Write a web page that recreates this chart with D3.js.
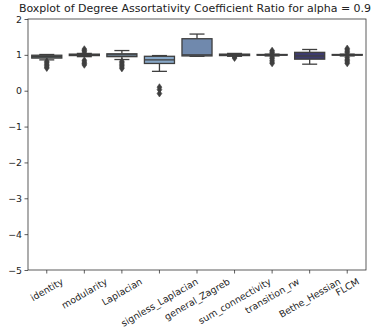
<!DOCTYPE html>
<html>
<head>
<meta charset="utf-8">
<script src="https://cdn.jsdelivr.net/npm/d3@7"></script>
<style>
  body { margin: 0; background: #fff; }
  text { font-family: "DejaVu Sans", sans-serif; fill: #222; }
</style>
</head>
<body>
<div id="chart-area"></div>
<script>
// Data
const categories = ["identity", "modularity", "Laplacian", "signless_Laplacian", "general_Zagreb",
  "sum_connectivity", "transition_rw", "Bethe_Hessian", "FLCM"];
const q1 = [0.91, 0.98, 0.95, 0.76, 0.97, 0.98, 0.99, 0.88, 0.99];
const median = [0.95, 1.00, 1.00, 0.86, 1.00, 1.00, 1.00, 0.97, 1.00];
const q3 = [0.99, 1.02, 1.03, 0.96, 1.45, 1.02, 1.01, 1.07, 1.01];
const whiskerLo = [0.86, 0.95, 0.87, 0.54, 0.96, 0.96, 0.97, 0.74, 0.97];
const whiskerHi = [1.01, 1.04, 1.12, 0.98, 1.58, 1.04, 1.02, 1.15, 1.02];
const outliers = [
  [0.82, 0.78, 0.74, 0.70, 0.66, 0.63],
  [1.16, 1.12, 1.08, 0.85, 0.80, 0.76, 0.72],
  [0.82, 0.78, 0.74, 0.70, 0.66, 0.62],
  [0.10, 0.03, -0.08],
  [],
  [0.94, 0.91],
  [1.12, 1.08, 1.05, 0.94, 0.90, 0.85, 0.80, 0.76],
  [],
  [1.18, 1.14, 1.10, 1.06, 0.93, 0.88, 0.84, 0.80, 0.76]
];
const boxColors = ["#65777a", "#3a4a5a", "#8eaecb", "#87a7c7", "#7089ad",
  "#2c2c3c", "#333340", "#3e3c6e", "#404048"];
const yTicks = [-5, -4, -3, -2, -1, 0, 1, 2];
const title = "Boxplot of Degree Assortativity Coefficient Ratio for alpha = 0.9";

const width = 378, height = 331;
const margin = {top: 19, right: 12, bottom: 61, left: 28};
const edge = "#3f3f3f";
const tickFont = 9.4;

const svg = d3.select("#chart-area").append("svg")
    .attr("width", width).attr("height", height);

const x = d3.scaleBand()
    .domain(categories)
    .range([margin.left, width - margin.right])
    .paddingInner(0.2).paddingOuter(0.1);

const y = d3.scaleLinear()
    .domain([-5, 2])
    .range([height - margin.bottom, margin.top]);

// title
svg.append("text")
    .attr("x", 195)
    .attr("y", 12)
    .attr("text-anchor", "middle")
    .style("font-size", "11px")
    .text(title);

// y axis
const yAxis = svg.append("g")
    .attr("transform", `translate(${margin.left},0)`)
    .call(d3.axisLeft(y).tickValues(yTicks).tickSize(3.5).tickPadding(2.5)
      .tickFormat(d => d < 0 ? "\u2212" + Math.abs(d) : d));
yAxis.selectAll("text").style("font-size", tickFont + "px");
// keep the top label clear of the title
yAxis.selectAll("text").filter(d => d === 2).attr("dy", "0.42em");

// x axis
const xAxis = svg.append("g")
    .attr("transform", `translate(0,${height - margin.bottom})`)
    .call(d3.axisBottom(x).tickSize(3.5).tickFormat(""));

[yAxis, xAxis].forEach(a => {
  a.select(".domain").remove();
  a.selectAll("line").attr("stroke", "#333").attr("stroke-width", 0.8);
});

// rotated labels, centred on tick like matplotlib ha=center
const labelTop = height - margin.bottom + 6;
const ang = 30 * Math.PI / 180;
categories.forEach(c => {
  const t = svg.append("text")
      .style("font-size", tickFont + "px")
      .attr("text-anchor", "middle")
      .attr("dominant-baseline", "central")
      .text(c);
  const w = t.node().getComputedTextLength();
  const h = tickFont * 1.1;
  const bh = w * Math.sin(ang) + h * Math.cos(ang);
  const cx = x(c) + x.bandwidth() / 2, cy = labelTop + bh / 2;
  t.attr("transform", `translate(${cx},${cy}) rotate(-30)`);
});

// boxes
const bw = x.bandwidth();
const g = svg.append("g");
categories.forEach((c, i) => {
  const cx = x(c) + bw / 2;
  const gi = g.append("g");
  // whiskers
  gi.append("line").attr("x1", cx).attr("x2", cx)
    .attr("y1", y(q3[i])).attr("y2", y(whiskerHi[i]))
    .attr("stroke", edge).attr("stroke-width", 1.3);
  gi.append("line").attr("x1", cx).attr("x2", cx)
    .attr("y1", y(q1[i])).attr("y2", y(whiskerLo[i]))
    .attr("stroke", edge).attr("stroke-width", 1.3);
  [whiskerHi[i], whiskerLo[i]].forEach(v => {
    gi.append("line").attr("x1", cx - bw / 4).attr("x2", cx + bw / 4)
      .attr("y1", y(v)).attr("y2", y(v))
      .attr("stroke", edge).attr("stroke-width", 1.3);
  });
  gi.append("rect")
    .attr("x", x(c)).attr("width", bw)
    .attr("y", y(q3[i])).attr("height", Math.max(0.5, y(q1[i]) - y(q3[i])))
    .attr("fill", boxColors[i]).attr("stroke", edge).attr("stroke-width", 1.3);
  gi.append("line").attr("x1", x(c)).attr("x2", x(c) + bw)
    .attr("y1", y(median[i])).attr("y2", y(median[i]))
    .attr("stroke", edge).attr("stroke-width", 1.3);
  // fliers as diamonds
  gi.selectAll("path.flier").data(outliers[i]).enter().append("path")
    .attr("class", "flier")
    .attr("d", "M0,-3.4L2.4,0L0,3.4L-2.4,0Z")
    .attr("transform", d => `translate(${cx},${y(d)})`)
    .attr("fill", edge).attr("stroke", edge).attr("stroke-width", 0.6);
});

// frame
svg.append("rect")
    .attr("x", margin.left).attr("y", margin.top)
    .attr("width", width - margin.left - margin.right)
    .attr("height", height - margin.top - margin.bottom)
    .attr("fill", "none").attr("stroke", "#333").attr("stroke-width", 0.8);
</script>
</body>
</html>
